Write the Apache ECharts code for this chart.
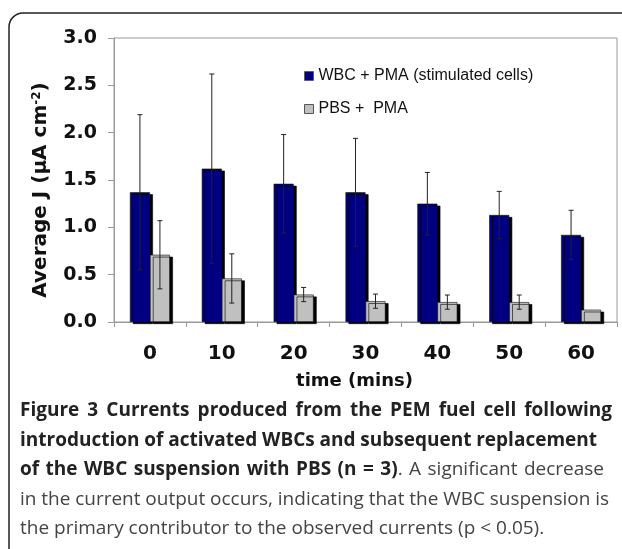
<!DOCTYPE html>
<html>
<head>
<meta charset="utf-8">
<script src="https://cdn.jsdelivr.net/npm/echarts@6/dist/echarts.min.js"></script>
<style>
html,body{margin:0;padding:0;background:#fff;}
#chart{width:622px;height:549px;}
</style>
</head>
<body>
<div id="chart"></div>
<script>
// time points (mins)
var categories = ['0', '10', '20', '30', '40', '50', '60'];
// WBC + PMA (stimulated cells)
var wbcMean = [1.37, 1.62, 1.46, 1.37, 1.25, 1.13, 0.92];
var wbcErr = [0.82, 1.00, 0.52, 0.57, 0.33, 0.25, 0.26];
// PBS + PMA
var pbsMean = [0.71, 0.46, 0.29, 0.22, 0.21, 0.21, 0.13];
var pbsErr = [0.36, 0.26, 0.075, 0.075, 0.075, 0.075, null];
var yTicks = [0, 0.5, 1.0, 1.5, 2.0, 2.5, 3.0];

// caption lines: words as [text, bold?] segments, right edge for the justified look
var captionLines = [
    {right: 612, words: 'Figure 3 Currents produced from the PEM fuel cell following'.split(' ').map(function (w) { return [[w, true]]; })},
    {right: 597, words: 'introduction of activated WBCs and subsequent replacement'.split(' ').map(function (w) { return [[w, true]]; })},
    {right: 604, words: 'of the WBC suspension with PBS (n ='.split(' ').map(function (w) { return [[w, true]]; })
        .concat([[['3)', true], ['.', false]]])
        .concat('A significant decrease'.split(' ').map(function (w) { return [[w, false]]; }))},
    {right: 609, words: 'in the current output occurs, indicating that the WBC suspension is'.split(' ').map(function (w) { return [[w, false]]; })},
    {right: null, words: 'the primary contributor to the observed currents (p < 0.05).'.split(' ').map(function (w) { return [[w, false]]; })}
];

var BAR_W = 20;
var AX_FONT = 'DejaVu Sans, Liberation Sans, sans-serif';
var CAP_FONT = 'Open Sans';
var CAP_SIZE = 19;

function errData(mean, err) {
    var out = [];
    for (var i = 0; i < mean.length; i++) {
        if (err[i] == null) continue;
        out.push([i, mean[i] - err[i], mean[i] + err[i]]);
    }
    return out;
}

function errSeries(mean, err, shift) {
    return {
        type: 'custom',
        z: 10,
        silent: true,
        data: errData(mean, err),
        renderItem: function (params, api) {
            var x = api.coord([api.value(0), 0])[0] + shift;
            var lo = api.coord([api.value(0), api.value(1)])[1];
            var hi = api.coord([api.value(0), api.value(2)])[1];
            var c = 2.5;
            var st = {stroke: '#222', lineWidth: 1};
            return {
                type: 'group',
                children: [
                    {type: 'line', shape: {x1: x, y1: lo, x2: x, y2: hi}, style: st},
                    {type: 'line', shape: {x1: x - c, y1: hi, x2: x + c, y2: hi}, style: st},
                    {type: 'line', shape: {x1: x - c, y1: lo, x2: x + c, y2: lo}, style: st}
                ]
            };
        }
    };
}

// caption, word by word so the lines can be spread like the printed figure
var ctx = document.createElement('canvas').getContext('2d');
function segFont(bold) {
    return (bold ? 'bold ' : '') + CAP_SIZE + 'px ' + CAP_FONT;
}
function wordWidth(word) {
    var w = 0;
    word.forEach(function (s) { ctx.font = segFont(s[1]); w += ctx.measureText(s[0]).width; });
    return w;
}
function captionGraphics() {
    ctx.font = segFont(false);
    var space = ctx.measureText(' ').width;
    var out = [];
    var x0 = 20, y0 = 411, lh = 29.5;
    captionLines.forEach(function (line, li) {
        var widths = line.words.map(wordWidth);
        var total = widths.reduce(function (a, b) { return a + b; }, 0);
        var gap = space;
        if (line.right != null && line.words.length > 1) {
            gap = (line.right - x0 - total) / (line.words.length - 1);
        }
        var x = x0;
        line.words.forEach(function (word, wi) {
            word.forEach(function (s) {
                ctx.font = segFont(s[1]);
                out.push({
                    type: 'text', silent: true,
                    x: x, y: y0 + li * lh,
                    style: {
                        text: s[0], fill: s[1] ? '#222' : '#444',
                        fontSize: CAP_SIZE, fontWeight: s[1] ? 'bold' : 'normal',
                        fontFamily: CAP_FONT, verticalAlign: 'middle', align: 'left'
                    }
                });
                x += ctx.measureText(s[0]).width;
            });
            x += gap;
        });
    });
    return out;
}

var chart = echarts.init(document.getElementById('chart'));
var barShadow = {
    borderColor: '#111',
    borderWidth: 0.6,
    shadowColor: '#000',
    shadowBlur: 0,
    shadowOffsetX: 3,
    shadowOffsetY: 2
};

var option = {
    animation: false,
    backgroundColor: '#fff',
    textStyle: {fontFamily: AX_FONT},
    grid: {
        left: 114, right: 5, top: 38, bottom: 227,
        show: true, borderColor: '#9a9a9a', borderWidth: 1
    },
    legend: {
        orient: 'vertical',
        left: 299, top: 63,
        itemWidth: 9, itemHeight: 9,
        itemGap: 17,
        icon: 'rect',
        textStyle: {fontSize: 16, color: '#111', fontFamily: 'Liberation Sans, Arial, sans-serif'},
        data: [
            {name: 'WBC + PMA (stimulated cells)', itemStyle: {shadowColor: 'transparent', borderColor: '#333', borderWidth: 0.5}},
            {name: 'PBS +  PMA', itemStyle: {shadowColor: 'transparent', borderColor: '#555', borderWidth: 1}}
        ]
    },
    xAxis: {
        type: 'category',
        data: categories,
        name: 'time (mins)',
        nameLocation: 'middle',
        nameGap: 50,
        nameTextStyle: {fontSize: 18, fontWeight: 'bold', color: '#111', padding: [0, 22, 0, 0]},
        axisLine: {lineStyle: {color: '#9a9a9a'}},
        axisTick: {show: true, length: 5, lineStyle: {color: '#9a9a9a'}},
        axisLabel: {fontSize: 20, fontWeight: 'bold', color: '#111', margin: 22}
    },
    yAxis: {
        type: 'value',
        min: yTicks[0], max: yTicks[yTicks.length - 1], interval: 0.5,
        name: '{a|Average J (μA cm}{s|-2}{a|)}',
        nameLocation: 'middle',
        nameRotate: 90,
        nameGap: 63,
        nameTextStyle: {
            padding: [0, 20, 0, 0],
            rich: {
                a: {fontSize: 20, fontWeight: 'bold', color: '#111', fontFamily: AX_FONT},
                s: {fontSize: 12, fontWeight: 'bold', color: '#111', verticalAlign: 'top', fontFamily: AX_FONT}
            }
        },
        axisLine: {show: true, lineStyle: {color: '#9a9a9a'}},
        axisTick: {show: true, length: 6, lineStyle: {color: '#9a9a9a'}},
        splitLine: {show: false},
        axisLabel: {
            fontSize: 19, fontWeight: 'bold', color: '#111', margin: 17,
            formatter: function (v) { return v.toFixed(1); }
        }
    },
    series: [
        {
            name: 'WBC + PMA (stimulated cells)',
            type: 'bar',
            data: wbcMean,
            barWidth: BAR_W,
            barGap: '0%',
            itemStyle: Object.assign({color: '#000080'}, barShadow)
        },
        {
            name: 'PBS +  PMA',
            type: 'bar',
            data: pbsMean,
            barWidth: BAR_W,
            barGap: '0%',
            itemStyle: Object.assign({color: '#c0c0c0'}, barShadow)
        },
        errSeries(wbcMean, wbcErr, -BAR_W / 2),
        errSeries(pbsMean, pbsErr, BAR_W / 2)
    ],
    graphic: [
        {
            type: 'rect',
            shape: {x: 9, y: 13, width: 700, height: 700, r: 14},
            style: {fill: 'none', stroke: '#222', lineWidth: 1.5},
            silent: true
        }
    ].concat(captionGraphics())
};
chart.setOption(option);
</script>
</body>
</html>
